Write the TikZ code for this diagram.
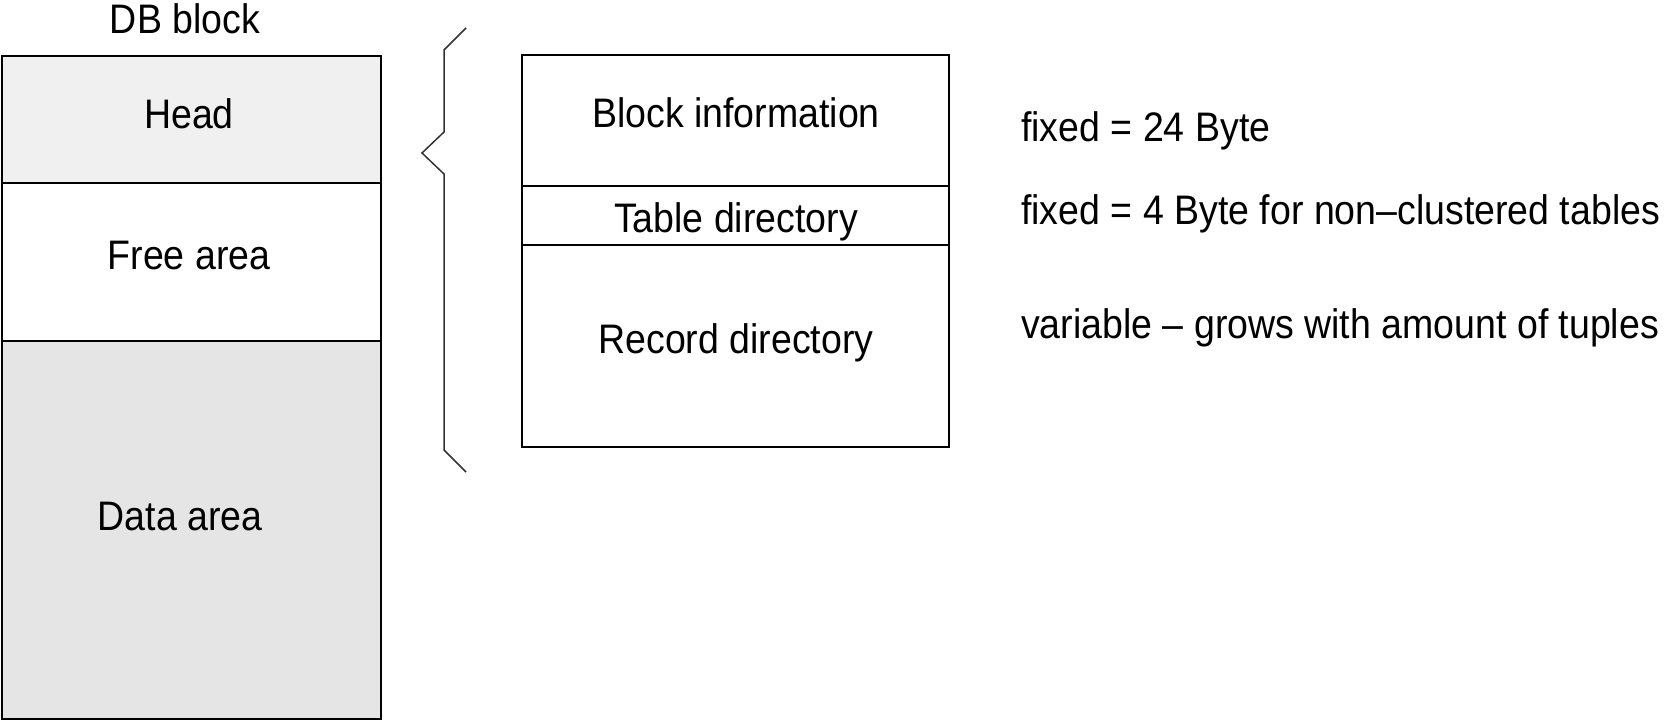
\documentclass[tikz,border=0pt]{standalone}
\usepackage{fontspec}
\setmainfont{Liberation Sans}
% text is set slightly taller than wide
\newcommand{\tall}[1]{\scalebox{1}[1.1]{#1}}
\begin{document}
\begin{tikzpicture}[x=1pt,y=-1pt,
  frame/.style={draw=black,line width=1.3pt},
  lbl/.style={anchor=base,inner sep=0pt,font=\fontsize{37.5}{45}\selectfont},
  note/.style={anchor=base west,inner sep=0pt,font=\fontsize{37.5}{45}\selectfont},
  bracepath/.style={draw=black!80,line width=1.5pt,line join=miter}]
\useasboundingbox (0,0) rectangle (1668,720);

% DB block: head, free area, data area
\path[fill=black!6]  (2,56)  rectangle (381,183);
\path[fill=black!10] (2,341) rectangle (381,720);
\draw[frame] (2,56) rectangle (381,719);
\draw[frame] (2,183) -- (381,183);
\draw[frame] (2,341) -- (381,341);

\node[lbl] (title) at (185,33)  {\tall{DB block}};
\node[lbl] (head)  at (189,128) {\tall{Head}};
\node[lbl] (free)  at (189,269) {\tall{Free area}};
\node[lbl] (data)  at (180,530) {\tall{Data area}};

% brace grouping the head contents
\coordinate (b1) at (466,28);
\coordinate (b2) at (444,50);
\coordinate (b3) at (444,132);
\coordinate (b4) at (422,153);
\coordinate (b5) at (444,174);
\coordinate (b6) at (444,450);
\coordinate (b7) at (466,472);
\draw[bracepath] (b1) -- (b2) -- (b3) -- (b4) -- (b5) -- (b6) -- (b7);

% head layout
\draw[frame] (522,55) rectangle (949,447);
\draw[frame] (522,186) -- (949,186);
\draw[frame] (522,245) -- (949,245);

\node[lbl] (binfo) at (736,127) {\tall{Block information}};
\node[lbl] (tdir)  at (736,232) {\tall{Table directory}};
\node[lbl] (rdir)  at (736,353) {\tall{Record directory}};

% sizes of the head parts
\node[note] (n1) at (1021,141) {\tall{fixed = 24 Byte}};
\node[note] (n2) at (1021,224) {\tall{fixed = 4 Byte for non\textendash clustered tables}};
\node[note] (n3) at (1021,338) {\tall{variable \textendash\ grows with amount of tuples}};
\end{tikzpicture}
\end{document}
